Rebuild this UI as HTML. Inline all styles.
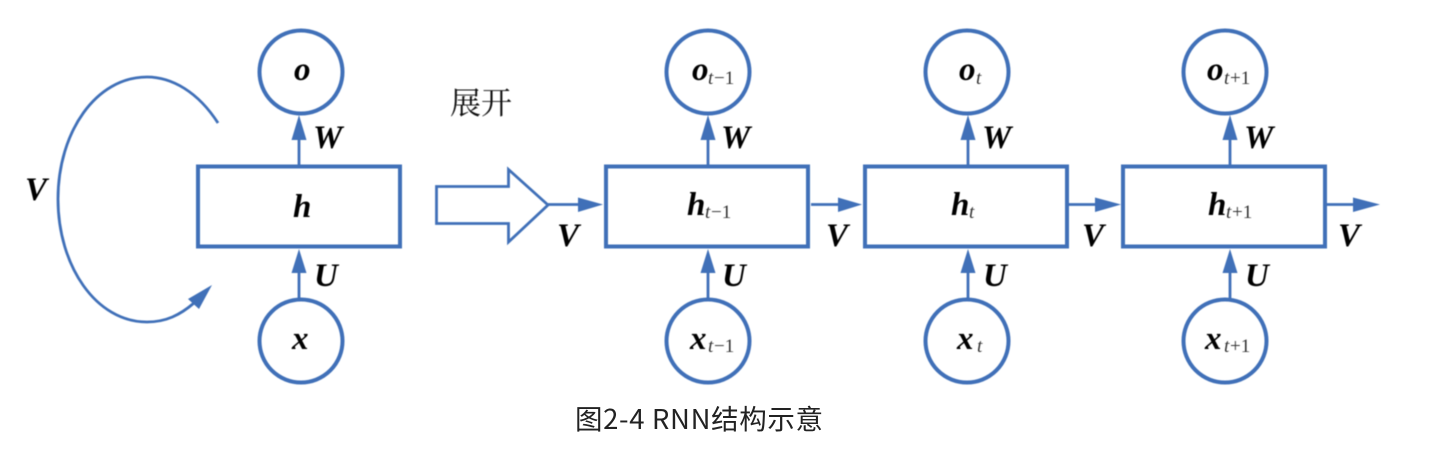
<!DOCTYPE html>
<html>
<head>
<meta charset="utf-8">
<style>
html,body{margin:0;padding:0;background:#fff;width:1436px;height:451px;overflow:hidden}
svg{display:block}
.m{font-family:"Liberation Serif",serif;font-style:italic;font-weight:bold;fill:#000}
.s{font-family:"Liberation Serif",serif;font-style:italic;fill:#333;font-size:19px}
.n{font-family:"Liberation Serif",serif;fill:#333;font-size:19px}
</style>
</head>
<body>
<svg width="1436" height="451" viewBox="0 0 1436 451" xmlns="http://www.w3.org/2000/svg">
<defs><filter id="b" x="-2%" y="-2%" width="104%" height="104%"><feGaussianBlur stdDeviation="0.5"/></filter></defs>
<g filter="url(#b)">
<g fill="none" stroke="#3f70b8" stroke-width="4">
<circle cx="301" cy="72" r="41.500"/><circle cx="301" cy="341" r="41.500"/>
<rect x="198" y="166.500" width="202" height="80"/>
<circle cx="708" cy="72" r="41.500"/><circle cx="708" cy="341" r="41.500"/>
<rect x="606" y="166.500" width="202" height="80"/>
<circle cx="967" cy="72" r="41.500"/><circle cx="967" cy="341" r="41.500"/>
<rect x="865" y="166.500" width="202" height="80"/>
<circle cx="1225" cy="72" r="41.500"/><circle cx="1225" cy="341" r="41.500"/>
<rect x="1123" y="166.500" width="202" height="80"/>
</g>
<g fill="none" stroke="#3f70b8" stroke-width="2.800">
<path d="M436.500 186.500H508.500V169.500L548 205L508.500 242V223.500H436.500Z"/>
<path d="M299 166V138M299 298V271M708 166V138M708 298V271M968 166V138M968 298V271M1230 166V138M1230 298V271"/>
<path d="M548 204.500H580M811 204.500H840M1068 204.500H1097M1327 204.500H1355"/>
<path d="M218 123C198 92 172 77 147 77C96 77 58 132 58 199C58 266 96 322 147 322C166 322 180 315 194 303"/>
</g>
<g fill="#3f70b8">
<path d="M299 115L306.500 140H291.500ZM299 249L306.500 273H291.500Z"/>
<path d="M708 115L715.500 140H700.500ZM708 249L715.500 273H700.500Z"/>
<path d="M968 115L975.500 140H960.500ZM968 249L975.500 273H960.500Z"/>
<path d="M1230 115L1237.500 140H1222.500ZM1230 249L1237.500 273H1222.500Z"/>
<path d="M603 204.500L578 197.500V212ZM862 204.500L838 197.500V212ZM1121 204.500L1095 197.500V212ZM1380 204.500L1353 197.500V212Z"/>
<path d="M212 285L188 299L199 309Z"/>
</g>
<g class="m" font-size="33">
<text x="294" y="80">o</text><text x="292" y="349">x</text><text x="293" y="217">h</text>
<text x="25" y="200">V</text>
<text x="313" y="148">W</text><text x="314" y="286">U</text>
<text x="721" y="148">W</text><text x="722" y="286">U</text>
<text x="982" y="148">W</text><text x="983" y="286">U</text>
<text x="1244" y="148">W</text><text x="1245" y="286">U</text>
<text x="557" y="246">V</text><text x="826" y="246">V</text><text x="1082" y="246">V</text><text x="1338" y="246">V</text>
<text x="692" y="80">o</text><text x="690" y="349">x</text><text x="687" y="215">h</text>
<text x="959" y="80">o</text><text x="957" y="349">x</text><text x="951" y="215">h</text>
<text x="1207" y="80">o</text><text x="1205" y="349">x</text><text x="1208" y="215">h</text>
</g>
<text class="s" x="708" y="84">t</text><text class="n" x="714" y="84">−1</text>
<text class="s" x="708" y="352">t</text><text class="n" x="714" y="352">−1</text>
<text class="s" x="705" y="218">t</text><text class="n" x="711" y="218">−1</text>
<text class="s" x="976" y="84">t</text>
<text class="s" x="977" y="352">t</text>
<text class="s" x="969" y="218">t</text>
<text class="s" x="1224" y="84">t</text><text class="n" x="1230" y="84">+1</text>
<text class="s" x="1224" y="352">t</text><text class="n" x="1230" y="352">+1</text>
<text class="s" x="1226" y="218">t</text><text class="n" x="1232" y="218">+1</text>
<text x="450" y="114" font-family="'Noto Serif CJK SC',serif" font-size="31" fill="#111">展开</text>
</g>
<text x="575" y="429" textLength="248" lengthAdjust="spacing" font-family="'Noto Sans CJK SC',sans-serif" font-size="27.500" fill="#222">图2-4 RNN结构示意</text>
</svg>
</body>
</html>
